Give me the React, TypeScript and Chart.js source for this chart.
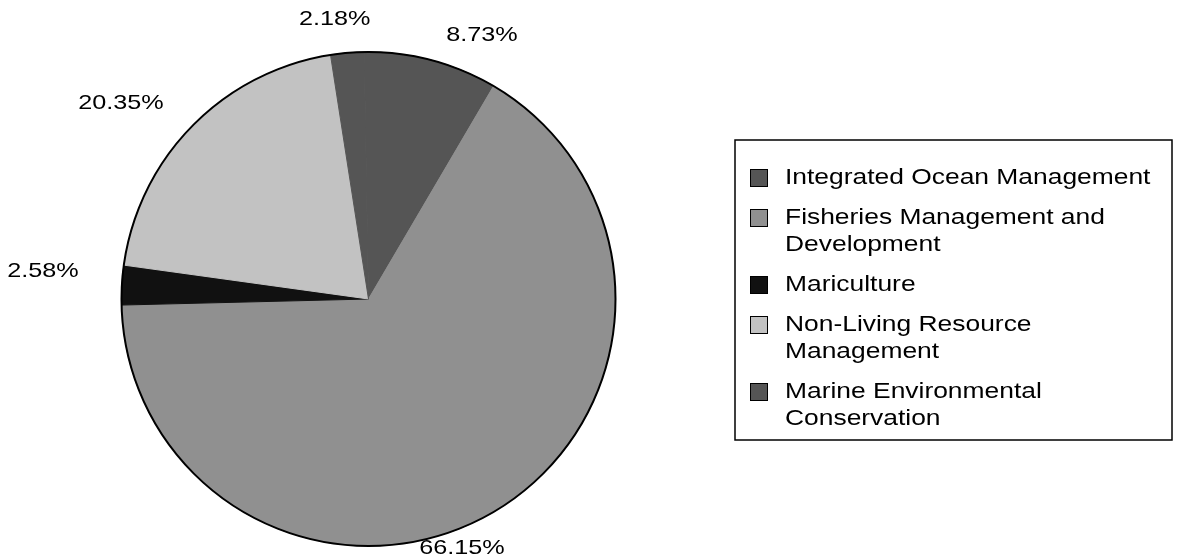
import React, { useEffect, useRef } from "react";
import { Chart, registerables } from "chart.js";

Chart.register(...registerables);

// ---- data ----
const categories: string[][] = [
  ["Integrated Ocean Management"],
  ["Fisheries Management and", "Development"],
  ["Mariculture"],
  ["Non-Living Resource", "Management"],
  ["Marine Environmental", "Conservation"],
];
const shares: number[] = [8.73, 66.15, 2.58, 20.35, 2.18];

// ---- styles / layout ----
const sliceColors = ["#555555", "#909090", "#111111", "#c2c2c2", "#555555"];
const labelNudge: number[][] = [
  [43, 4],
  [-47, 10],
  [-49, -12],
  [-50, -2],
  [-10, -4],
];
const FONT = '"Liberation Sans", Arial, Helvetica, sans-serif';
const STRETCH = 1.2;
const LEG = {
  left: 735,
  right: 1172,
  top: 140,
  bottom: 440,
  boxX: 750,
  box: 18,
  textX: 785,
  firstY: 178,
  lineH: 27,
  itemGap: 40,
  fontSize: 22,
};

function drawText(ctx: CanvasRenderingContext2D, text: string, x: number, y: number, align: CanvasTextAlign) {
  ctx.save();
  ctx.translate(x, y);
  ctx.scale(STRETCH, 1);
  ctx.textAlign = align;
  ctx.textBaseline = "middle";
  ctx.fillText(text, 0, 0);
  ctx.restore();
}

const decorPlugin = {
  id: "decor",
  afterDatasetsDraw(chart: any) {
    const ctx: CanvasRenderingContext2D = chart.ctx;
    const arcs = chart.getDatasetMeta(0).data;
    if (!arcs.length) return;
    const c = arcs[0].getProps(["x", "y", "outerRadius"], true);
    ctx.save();
    ctx.beginPath();
    ctx.arc(c.x, c.y, c.outerRadius, 0, Math.PI * 2);
    ctx.lineWidth = 2;
    ctx.strokeStyle = "#000";
    ctx.stroke();
    ctx.fillStyle = "#000";
    ctx.font = `21px ${FONT}`;
    arcs.forEach((arc: any, i: number) => {
      const p = arc.getProps(["startAngle", "endAngle", "outerRadius", "x", "y"], true);
      const mid = (p.startAngle + p.endAngle) / 2;
      const R = p.outerRadius + 30;
      const lx = p.x + Math.cos(mid) * R + labelNudge[i][0];
      const ly = p.y + Math.sin(mid) * R + labelNudge[i][1];
      drawText(ctx, `${shares[i].toFixed(2)}%`, lx, ly, "center");
    });
    ctx.restore();
  },
  afterDraw(chart: any) {
    const ctx: CanvasRenderingContext2D = chart.ctx;
    ctx.save();
    ctx.strokeStyle = "#000";
    ctx.lineWidth = 1.5;
    ctx.strokeRect(LEG.left, LEG.top, LEG.right - LEG.left, LEG.bottom - LEG.top);
    ctx.font = `${LEG.fontSize}px ${FONT}`;
    let y = LEG.firstY;
    const labels: string[][] = chart.data.labels;
    const colors: string[] = chart.data.datasets[0].backgroundColor;
    labels.forEach((lines, i) => {
      ctx.fillStyle = colors[i];
      ctx.fillRect(LEG.boxX, y - LEG.box / 2, LEG.box, LEG.box);
      ctx.lineWidth = 1;
      ctx.strokeStyle = "#000";
      ctx.strokeRect(LEG.boxX + 0.5, y - LEG.box / 2 + 0.5, LEG.box - 1, LEG.box - 1);
      ctx.fillStyle = "#000";
      lines.forEach((ln, j) => drawText(ctx, ln, LEG.textX, y + j * LEG.lineH, "left"));
      y += (lines.length - 1) * LEG.lineH + LEG.itemGap;
    });
    ctx.restore();
  },
};

export default function App() {
  const ref = useRef<HTMLCanvasElement | null>(null);
  useEffect(() => {
    if (!ref.current) return;
    const chart = new Chart(ref.current, {
      type: "pie",
      data: {
        labels: categories,
        datasets: [
          {
            data: shares,
            backgroundColor: sliceColors,
            borderColor: sliceColors,
            borderWidth: 1,
          },
        ],
      },
      options: {
        responsive: false,
        animation: false,
        devicePixelRatio: 1,
        rotation: -1,
        layout: { padding: { left: 121, right: 583, top: 51.5, bottom: 11.5 } },
        plugins: { legend: { display: false }, tooltip: { enabled: false } },
      },
      plugins: [decorPlugin],
    });
    return () => chart.destroy();
  }, []);
  return (
    <div style={{ position: "fixed", left: 0, top: 0, width: 1199, height: 558, background: "#fff" }}>
      <canvas ref={ref} width={1199} height={558} style={{ display: "block" }} />
    </div>
  );
}
